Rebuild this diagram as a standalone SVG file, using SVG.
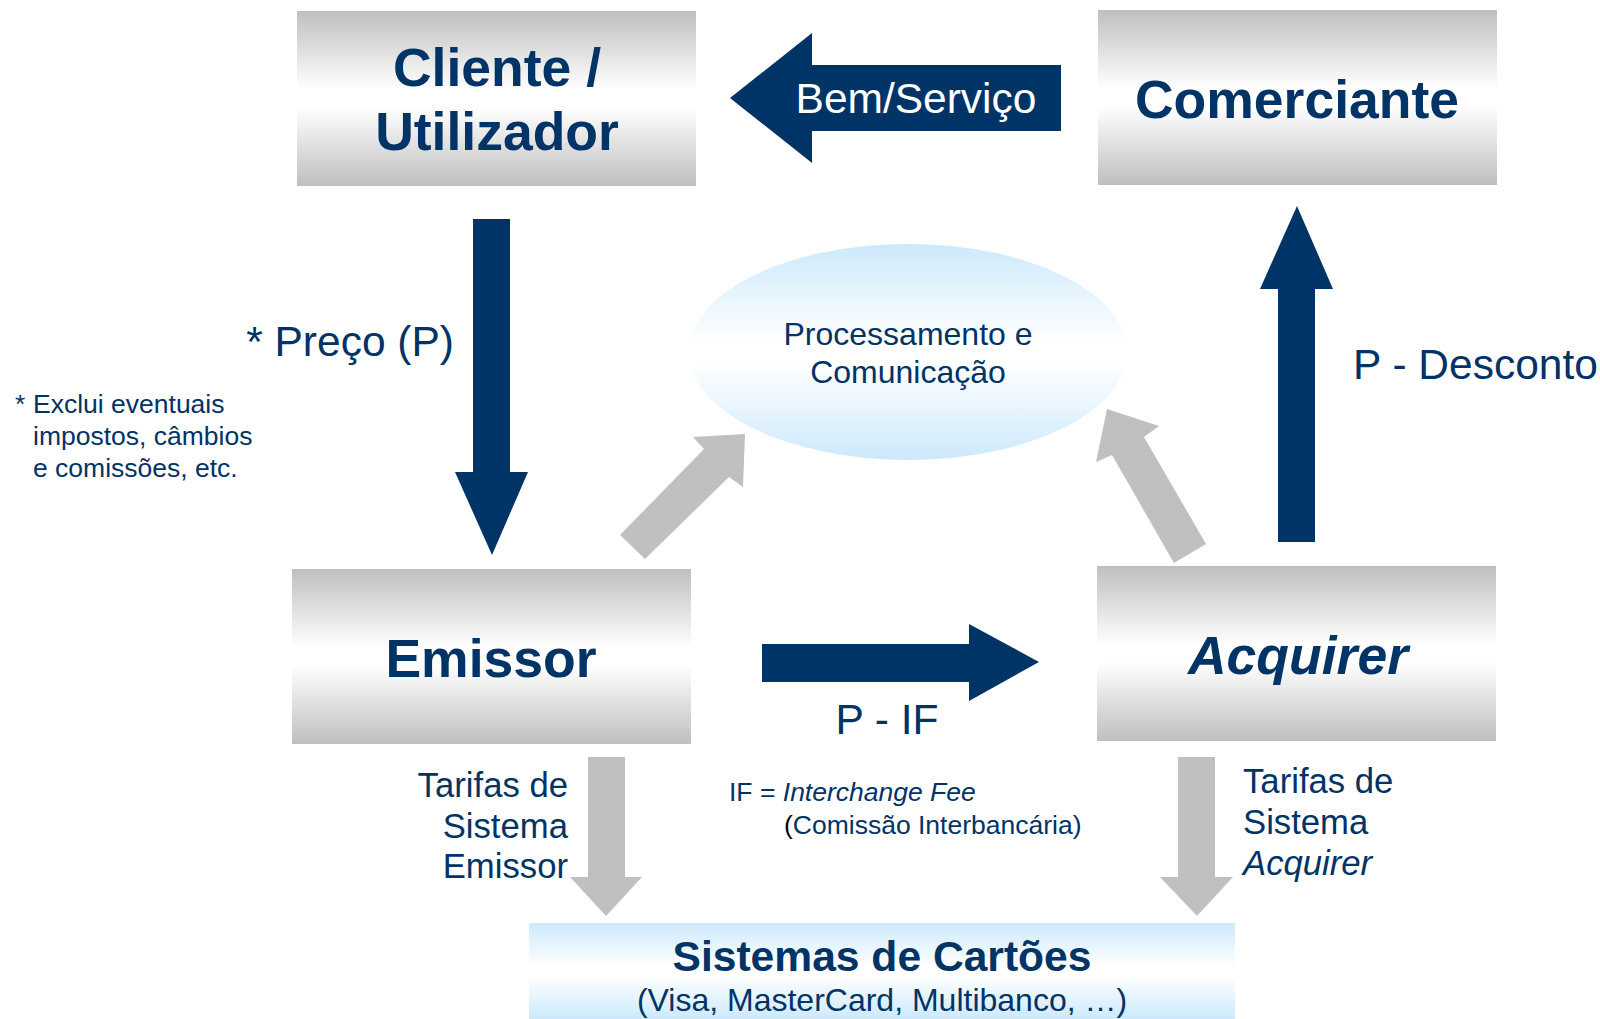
<svg xmlns="http://www.w3.org/2000/svg" width="1600" height="1019" viewBox="0 0 1600 1019">
  <defs>
    <linearGradient id="gGrey" x1="0" y1="0" x2="0" y2="1">
      <stop offset="0" stop-color="#bfbfbf"/>
      <stop offset="0.45" stop-color="#ffffff"/>
      <stop offset="0.55" stop-color="#ffffff"/>
      <stop offset="1" stop-color="#bfbfbf"/>
    </linearGradient>
    <linearGradient id="gBlue" x1="0" y1="0" x2="0" y2="1">
      <stop offset="0" stop-color="#cce9fc"/>
      <stop offset="0.45" stop-color="#ffffff"/>
      <stop offset="0.55" stop-color="#ffffff"/>
      <stop offset="1" stop-color="#cce9fc"/>
    </linearGradient>
    <style>
      text { font-family: "Liberation Sans", Arial, sans-serif; fill: #003366; }
      .big { font-size: 53.5px; font-weight: bold; text-anchor: middle; }
      .lbl { font-size: 42.5px; }
      .mid { font-size: 34.7px; }
      .small { font-size: 26.5px; }
      .note { font-size: 26.5px; }
      .navy { fill: #003366; }
      .grey { fill: #c0c0c0; }
      .box { fill: url(#gGrey); }
    </style>
  </defs>

  <g id="connectors">
    <polygon id="arrow-bem" class="navy" points="730,98 812,33 812,65 1061,65 1061,131 812,131 812,163"/>
    <polygon id="arrow-preco" class="navy" points="473,219 510,219 510,472 528,472 492,555 455,472 473,472"/>
    <polygon id="arrow-pif" class="navy" points="762,644 969,644 969,624 1039,662 969,701 969,682 762,682"/>
    <polygon id="arrow-desconto" class="navy" points="1278,542 1278,289 1260,289 1297,206 1333,289 1315,289 1315,542"/>
    <polygon id="arrow-emissor-proc" class="grey" points="745,434 693,437 704,449 620,535 645,559 729,477 743,487"/>
    <polygon id="arrow-acquirer-proc" class="grey" points="1107,409 1096,462 1112,455 1174,563 1206,544 1144,437 1159,426"/>
    <polygon id="arrow-emissor-sist" class="grey" points="588,757 625,757 625,877 642,877 606,916 570,877 588,877"/>
    <polygon id="arrow-acquirer-sist" class="grey" points="1178,757 1215,757 1215,877 1233,877 1197,916 1160,877 1178,877"/>
    <text x="916" y="113" class="lbl" text-anchor="middle" style="fill:#ffffff">Bem/Serviço</text>
    <text x="454" y="356" class="lbl" text-anchor="end">* Preço (P)</text>
    <text x="887" y="734" class="lbl" text-anchor="middle">P - IF</text>
    <text x="1353" y="379" class="lbl">P - Desconto</text>
    <text x="568" y="797" class="mid" text-anchor="end">Tarifas de</text>
    <text x="568" y="838" class="mid" text-anchor="end">Sistema</text>
    <text x="568" y="878" class="mid" text-anchor="end">Emissor</text>
    <text x="1243" y="793" class="mid">Tarifas de</text>
    <text x="1243" y="834" class="mid">Sistema</text>
    <text x="1243" y="875" class="mid" font-style="italic">Acquirer</text>
  </g>

  <g id="note">
    <text x="15" y="413" class="note">*</text>
    <text x="33" y="413" class="note">Exclui eventuais</text>
    <text x="33" y="445" class="note">impostos, câmbios</text>
    <text x="33" y="477" class="note">e comissões, etc.</text>
  </g>

  <g id="if-note">
    <text x="729" y="801" class="small">IF = <tspan font-style="italic">Interchange Fee</tspan></text>
    <text x="784" y="834" class="small"><tspan style="fill:#000000">(</tspan>Comissão Interbancária)</text>
  </g>

  <g id="cliente">
    <rect x="297" y="11" width="399" height="175" class="box"/>
    <text x="497" y="86" class="big">Cliente /</text>
    <text x="497" y="150" class="big">Utilizador</text>
  </g>

  <g id="comerciante">
    <rect x="1098" y="10" width="399" height="175" class="box"/>
    <text x="1297" y="118" class="big">Comerciante</text>
  </g>

  <g id="processamento">
    <ellipse cx="908" cy="352" rx="219" ry="108" fill="url(#gBlue)"/>
    <text x="908" y="345" style="font-size:32px" text-anchor="middle">Processamento e</text>
    <text x="908" y="383" style="font-size:32px" text-anchor="middle">Comunicação</text>
  </g>

  <g id="emissor">
    <rect x="292" y="569" width="399" height="175" class="box"/>
    <text x="491" y="677" class="big">Emissor</text>
  </g>

  <g id="acquirer">
    <rect x="1097" y="566" width="399" height="175" class="box"/>
    <text x="1298" y="674" class="big" font-style="italic">Acquirer</text>
  </g>

  <g id="sistemas">
    <rect x="529" y="923" width="706" height="96" fill="url(#gBlue)"/>
    <text x="882" y="971" style="font-size:42.6px;font-weight:bold" text-anchor="middle">Sistemas de Cartões</text>
    <text x="882" y="1011" style="font-size:32px" text-anchor="middle">(Visa, MasterCard, Multibanco, …)</text>
  </g>
</svg>
